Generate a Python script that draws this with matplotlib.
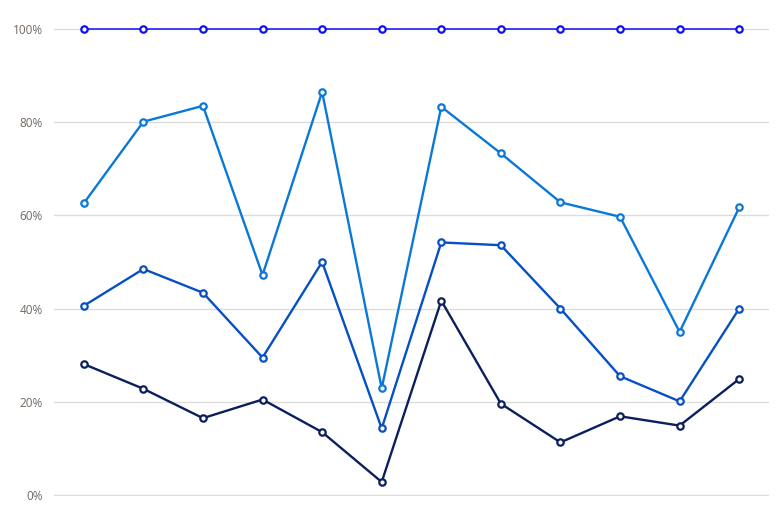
import matplotlib
matplotlib.use("Agg")
import matplotlib.pyplot as plt
from matplotlib.ticker import FuncFormatter

# 데이터 (그림에서 읽은 값, %)
points = list(range(12))
top_vals = [100, 100, 100, 100, 100, 100, 100, 100, 100, 100, 100, 100]
light_vals = [62.6, 80.1, 83.5, 47.2, 86.5, 22.9, 83.3, 73.3, 62.8, 59.7, 35.0, 61.7]
mid_vals = [40.6, 48.5, 43.4, 29.5, 50.0, 14.3, 54.2, 53.6, 40.0, 25.5, 20.1, 40.0]
dark_vals = [28.1, 22.8, 16.5, 20.5, 13.5, 2.8, 41.7, 19.6, 11.3, 16.9, 14.9, 24.9]
y_ticks = [0, 20, 40, 60, 80, 100]

plt.rcParams['font.family'] = ['Open Sans', 'DejaVu Sans']

fig = plt.figure(figsize=(7.81, 5.31), dpi=100)
ax = fig.add_axes([54 / 781, 35 / 531, 715 / 781, 468 / 531])

series = [
    (top_vals, '#1010f0', 1.1),
    (light_vals, '#0a78d6', 1.7),
    (mid_vals, '#0650c4', 1.7),
    (dark_vals, '#0b1f5e', 1.7),
]
for vals, col, lw in series:
    ax.plot(points, vals, color=col, lw=lw, marker='o', ms=4.6,
            mfc='white', mec=col, mew=1.6, clip_on=False, zorder=3)

ax.set_xlim(-0.5, 11.5)
ax.set_ylim(-0.2, 100.2)
ax.set_yticks(y_ticks)
ax.yaxis.set_major_formatter(FuncFormatter(lambda v, p: f"{int(v)}%"))
ax.set_xticks([])
ax.tick_params(axis='y', length=0, pad=8, labelsize=8.5, labelcolor='#716860')
ax.grid(axis='y', color='#dcdcdc', lw=1)
ax.set_axisbelow(True)
for s in ax.spines.values():
    s.set_visible(False)

fig.savefig("out.png", dpi=100)
